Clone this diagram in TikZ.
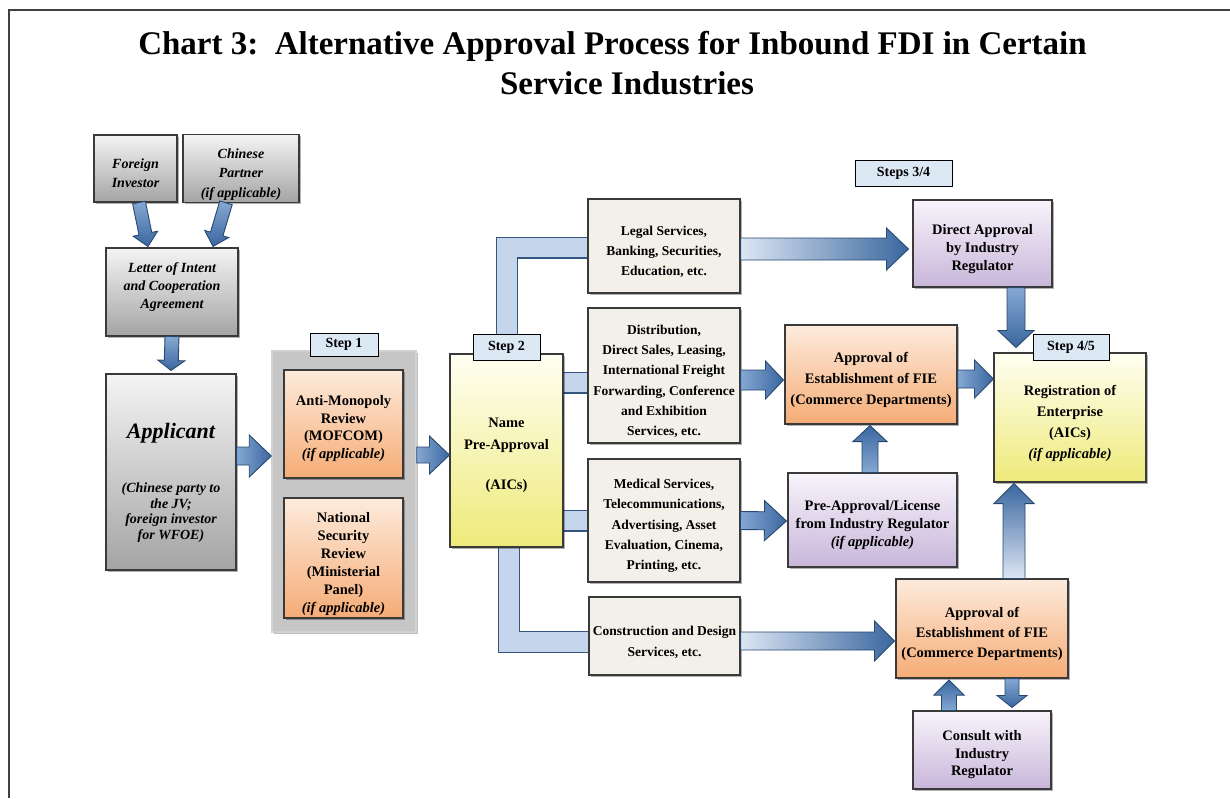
\documentclass[tikz,border=0pt]{standalone}
\usepackage{fontspec}
\setmainfont{Liberation Serif}
\usetikzlibrary{calc,shadows,backgrounds}
\definecolor{boxedge}{HTML}{3A3A3A}
\definecolor{graytop}{HTML}{F4F4F4}
\definecolor{graybot}{HTML}{A4A4A4}
\definecolor{orangetop}{HTML}{FDEBDC}
\definecolor{orangebot}{HTML}{F5AC76}
\definecolor{yellowtop}{HTML}{FFFFF2}
\definecolor{yellowbot}{HTML}{EEEA7A}
\definecolor{purpletop}{HTML}{F8F4FB}
\definecolor{purplebot}{HTML}{C8B6DA}
\definecolor{beige}{HTML}{F2F0E8}
\definecolor{labelblue}{HTML}{DCE8F4}
\definecolor{stepbg}{HTML}{C6C6C6}
\definecolor{arrowpale}{HTML}{DCE6F3}
\definecolor{arrowlight}{HTML}{86A8D3}
\definecolor{arrowdark}{HTML}{3A679F}
\definecolor{arrowedge}{HTML}{27486F}
\definecolor{pipec}{HTML}{C5D6EC}
\definecolor{pipeedgec}{HTML}{34557F}
\definecolor{framec}{HTML}{404040}
\newcommand{\tsx}[1]{\rule{0pt}{#1}}
\begin{document}
\begin{tikzpicture}[x=1pt,y=-1pt,
  box/.style={draw=boxedge, line width=1.1pt, inner sep=2pt, align=center,
    font=\bfseries\fontsize{14.5}{17.5}\selectfont,
    drop shadow={shadow xshift=1.5pt,shadow yshift=-1.5pt,opacity=0.3,fill=black}},
  graybox/.style={box, top color=graytop, bottom color=graybot,
    font=\bfseries\itshape\fontsize{14}{19.5}\selectfont},
  orangebox/.style={box, top color=orangetop, bottom color=orangebot},
  yellowbox/.style={box, top color=yellowtop, bottom color=yellowbot},
  purplebox/.style={box, top color=purpletop, bottom color=purplebot},
  servbox/.style={box, fill=beige, font=\bfseries\fontsize{13.5}{20.3}\selectfont},
  steplabel/.style={draw=black, line width=1pt, fill=labelblue, inner sep=0pt,
    font=\bfseries\fontsize{14}{16}\selectfont},
  titlefont/.style={font=\bfseries\fontsize{33}{40}\selectfont, inner sep=0pt},
  barrow/.style n args={3}{draw=arrowedge, line width=0.9pt, line join=miter,
    to path={let \p1=(\tikztostart), \p2=(\tikztotarget),
      \n1={atan2(\y2-\y1,\x2-\x1)}, \n2={veclen(\x2-\x1,\y2-\y1)-#3} in
      ($(\p1)+(\n1+90:#1)$) -- ($(\p1)+(\n1:\n2)+(\n1+90:#1)$)
      -- ($(\p1)+(\n1:\n2)+(\n1+90:#2)$) -- (\p2)
      -- ($(\p1)+(\n1:\n2)+(\n1-90:#2)$) -- ($(\p1)+(\n1:\n2)+(\n1-90:#1)$)
      -- ($(\p1)+(\n1-90:#1)$) -- cycle}},
  arrowR/.style={left color=arrowlight, right color=arrowdark},
  arrowD/.style={top color=arrowlight, bottom color=arrowdark},
  arrowU/.style={bottom color=arrowlight, top color=arrowdark},
  pipeedge/.style={draw=pipeedgec, line width=22pt, line join=miter},
  pipefill/.style={draw=pipec, line width=19.6pt, line join=miter}
]
\useasboundingbox (0,0) rectangle (1230,798);
\draw[framec, line width=1.2pt] (9,798) -- (9,10) -- (1230,10);

% title
\node[titlefont, anchor=base] (t1) at (612.5,54) {Chart 3:\ \ Alternative Approval Process for Inbound FDI in Certain};
\node[titlefont, anchor=base] (t2) at (627,94) {Service Industries};

% step 1 background
\node[fill=stepbg, draw=gray!35, line width=1.5pt, minimum width=144, minimum height=281,
  drop shadow={shadow xshift=2pt,shadow yshift=-2pt,opacity=0.25,fill=black}] (s1bg) at (344,491.5) {};

% left column
\node[graybox, minimum width=83, minimum height=67] (fi) at (135.5,168.5) {\tsx{19.5pt}Foreign\\Investor};
\node[graybox, minimum width=116, minimum height=67] (cp) at (241,168.5) {\tsx{21.5pt}Chinese\\Partner\\(if applicable)};
\node[graybox, minimum width=132, minimum height=88, font=\bfseries\itshape\fontsize{14}{18}\selectfont] (loi) at (172,292)
  {Letter of Intent\\and Cooperation\\Agreement\rule[-13pt]{0pt}{13pt}};
\node[graybox, minimum width=130, minimum height=196, font=\bfseries\itshape\fontsize{14}{15.5}\selectfont] (app) at (171,472)
  {\tsx{36pt}{\fontsize{22}{26}\selectfont Applicant}\\[39pt](Chinese party to\\the JV;\\foreign investor\\for WFOE)};

% step 1 boxes
\node[orangebox, minimum width=119, minimum height=108] (anti) at (343.5,424) {\tsx{19pt}Anti-Monopoly\\Review\\(MOFCOM)\\\textit{(if applicable)}};
\node[orangebox, minimum width=119, minimum height=120, font=\bfseries\fontsize{14.5}{18}\selectfont] (nsr) at (343.5,558) {\tsx{22pt}National\\Security\\Review\\(Ministerial\\Panel)\\\textit{(if applicable)}};

% step 2 and service boxes
\node[yellowbox, minimum width=113, minimum height=193, font=\bfseries\fontsize{14.5}{22}\selectfont] (name) at (506.5,450.5) {\tsx{20pt}Name\\Pre-Approval\\[18pt](AICs)};
\node[servbox, minimum width=152, minimum height=94] (legal) at (664,246) {\tsx{21pt}Legal Services,\\Banking, Securities,\\Education, etc.};
\node[servbox, minimum width=152, minimum height=135] (dist) at (664,375.5) {\tsx{21pt}Distribution,\\Direct Sales, Leasing,\\International Freight\\Forwarding, Conference\\and Exhibition\\Services, etc.};
\node[servbox, minimum width=152, minimum height=123] (med) at (664,520.5) {\tsx{20pt}Medical Services,\\Telecommunications,\\Advertising, Asset\\Evaluation, Cinema,\\Printing, etc.};
\node[servbox, minimum width=151, minimum height=78] (cons) at (664.5,636) {\tsx{22pt}Construction and Design\\Services, etc.};

% pipes behind boxes
\begin{scope}[on background layer]
\draw[pipeedge] ($(name.north)+(0.5,20)$) |- ($(legal.west)+(10,1.5)$);
\draw[pipefill] ($(name.north)+(0.5,20)$) |- ($(legal.west)+(10,1.5)$);
\draw[pipeedge] ($(name.east)+(-5,-68)$) -- ($(dist.west)+(5,7)$);
\draw[pipefill] ($(name.east)+(-5,-68)$) -- ($(dist.west)+(5,7)$);
\draw[pipeedge] ($(name.east |- med.west)+(-5,0)$) -- ($(med.west)+(5,0)$);
\draw[pipefill] ($(name.east |- med.west)+(-5,0)$) -- ($(med.west)+(5,0)$);
\draw[pipeedge] ($(name.south)+(2.5,-10)$) |- ($(cons.west)+(10,6)$);
\draw[pipefill] ($(name.south)+(2.5,-10)$) |- ($(cons.west)+(10,6)$);
\end{scope}

% right side boxes
\node[purplebox, minimum width=139, minimum height=87, font=\bfseries\fontsize{14.5}{18}\selectfont] (direct) at (982.5,243.5) {\tsx{22pt}Direct Approval\\by Industry\\Regulator};
\node[orangebox, minimum width=172, minimum height=99, font=\bfseries\fontsize{14.5}{21}\selectfont] (ap1) at (871,374.5) {\tsx{22pt}Approval of\\Establishment of FIE\\(Commerce Departments)};
\node[yellowbox, minimum width=152, minimum height=129, font=\bfseries\fontsize{14.5}{21}\selectfont] (reg) at (1070,417.5) {\tsx{22pt}Registration of\\Enterprise\\(AICs)\\\textit{(if applicable)}};
\node[purplebox, minimum width=169, minimum height=94, font=\bfseries\fontsize{14.5}{18}\selectfont] (pre) at (872.5,520) {\tsx{20.5pt}Pre-Approval/License\\from Industry Regulator\\\textit{(if applicable)}};
\node[orangebox, minimum width=172, minimum height=99, font=\bfseries\fontsize{14.5}{20}\selectfont] (ap2) at (982,628.5) {\tsx{22pt}Approval of\\Establishment of FIE\\(Commerce Departments)};
\node[purplebox, minimum width=138, minimum height=78] (consult) at (982,750) {\tsx{20pt}Consult with\\Industry\\Regulator};

% step labels
\node[steplabel, minimum width=68, minimum height=23] (s1) at (344,344.5) {Step 1};
\node[steplabel, minimum width=67, minimum height=26] (s2) at (506.5,347) {Step 2};
\node[steplabel, minimum width=97, minimum height=26] (s34) at (903.5,173) {Steps 3/4};
\node[steplabel, minimum width=76, minimum height=26] (s45) at (1071,347) {Step 4/5};

% block arrows
\draw[barrow={6.5pt}{12.5pt}{13pt}, arrowD] ($(fi.south)+(3.5,0)$) to ($(loi.north)+(-24,-1)$);
\draw[barrow={6.5pt}{12.5pt}{13pt}, arrowD] ($(cp.south)+(-15,0)$) to ($(loi.north)+(41,-1)$);
\draw[barrow={7pt}{13.5pt}{10pt}, arrowD] (loi.south) to ($(app.north)+(0,-3)$);
\draw[barrow={9pt}{21pt}{22pt}, arrowR] ($(app.east)+(0,-16)$) to ($(s1bg.west)+(0,-35.5)$);
\draw[barrow={8pt}{19pt}{20pt}, arrowR] ($(s1bg.east)+(0,-36.5)$) to ($(name.west)+(0,4.5)$);
\draw[barrow={11pt}{21pt}{22pt}, left color=arrowpale, right color=arrowdark] ($(legal.east)+(0,3)$) to ($(direct.west)+(-4,5.5)$);
\draw[barrow={10pt}{19pt}{18pt}, arrowR] ($(dist.east)+(0,4.5)$) to ($(ap1.west)+(-1,5.5)$);
\draw[barrow={9pt}{19pt}{19pt}, arrowR] ($(ap1.east)+(0,4.5)$) to ($(reg.west)+(0,-38.5)$);
\draw[barrow={9pt}{18pt}{17pt}, arrowD] ($(direct.south)+(33.5,0)$) to ($(reg.north)+(-54,-5)$);
\draw[barrow={8pt}{17pt}{16pt}, arrowU] ($(pre.north)+(-2.5,0)$) to ($(ap1.south)+(-1,1)$);
\draw[barrow={9pt}{20pt}{22pt}, arrowR] (med.east) to ($(pre.west)+(-1,1)$);
\draw[barrow={9pt}{20pt}{20pt}, left color=arrowpale, right color=arrowdark] ($(cons.east)+(0,5)$) to ($(ap2.west)+(-1,12.5)$);
\draw[barrow={11pt}{20pt}{20pt}, bottom color=arrowpale, top color=arrowdark] ($(ap2.north)+(32,0)$) to ($(reg.south)+(-56,1)$);
\draw[barrow={7.5pt}{15pt}{15pt}, arrowU] ($(consult.north)+(-33,0)$) to ($(ap2.south)+(-33,1.5)$);
\draw[barrow={7pt}{15pt}{12pt}, arrowD] ($(ap2.south)+(30,0)$) to ($(consult.north)+(30,-3)$);
\end{tikzpicture}
\end{document}
